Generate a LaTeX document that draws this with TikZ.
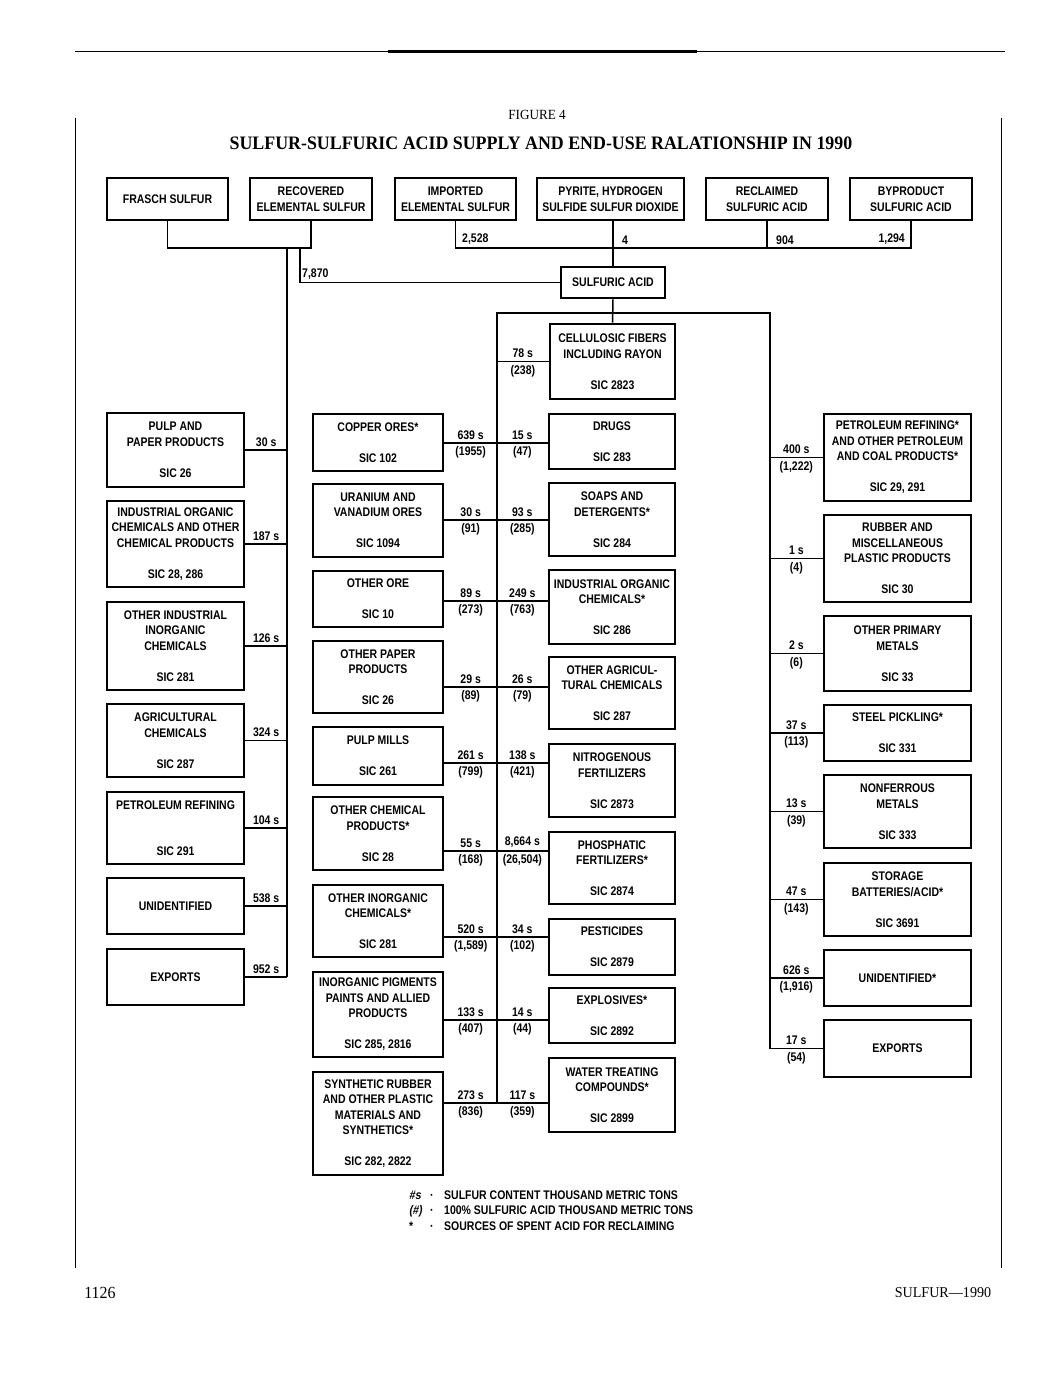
\documentclass[tikz,border=0pt]{standalone}
\usepackage{fontspec}
\setmainfont{Liberation Serif}
\newfontface\headfont[FakeStretch=0.94]{Liberation Serif}
\newfontface\headbold[FakeStretch=0.94]{Liberation Serif Bold}
\newfontface\condb[FakeStretch=0.84]{Liberation Sans Bold}
\newfontface\condbi[FakeStretch=0.84,FakeSlant=0.15]{Liberation Sans Bold}
\newcommand\boxfont{\condb\fontsize{12.5}{15.5}\selectfont}
\usetikzlibrary{calc}

\begin{document}
\begin{tikzpicture}[x=1pt,y=-1pt,
    box/.style={draw,line width=2.6pt,inner sep=0pt,align=center,font=\boxfont},
    topbox/.style={box,minimum height=42pt},
    lcol/.style={box,minimum width=137pt},
    mlcol/.style={box,minimum width=130pt},
    mrcol/.style={box,minimum width=126pt},
    rcol/.style={box,minimum width=147pt},
    qty/.style={font=\boxfont,inner sep=3pt},
    flow/.style={line width=1.5pt}]
    \useasboundingbox (0,0) rectangle (1043,1379);

    % page rules and headings
    \draw[line width=0.8pt] (75,51) -- (1005,51);
    \draw[line width=3pt] (388,51) -- (697,51);
    \draw[line width=0.8pt] (75,118) -- (75,1268) (1001,118) -- (1001,1268);
    \node[font=\headfont\fontsize{14}{16}\selectfont] (fig) at (537,115) {FIGURE 4};
    \node[font=\headbold\fontsize{19}{22}\selectfont] (title) at (541,143)
        {SULFUR-SULFURIC ACID SUPPLY AND END-USE RALATIONSHIP IN 1990};
    \node[font=\headfont\fontsize{17}{20}\selectfont] (pageno) at (100,1293) {1126};
    \node[font=\headfont\fontsize{15}{18}\selectfont] (running) at (943,1293) {SULFUR—1990};

    % supply
    \node[topbox,minimum width=121pt] (frasch) at (167.5,199) {FRASCH SULFUR};
    \node[topbox,minimum width=122pt] (recovered) at (311,199) {RECOVERED\\ELEMENTAL SULFUR};
    \node[topbox,minimum width=121pt] (imported) at (455.5,199) {IMPORTED\\ELEMENTAL SULFUR};
    \node[topbox,minimum width=147pt] (pyrite) at (610.5,199) {PYRITE, HYDROGEN\\SULFIDE SULFUR DIOXIDE};
    \node[topbox,minimum width=122pt] (reclaimed) at (767,199) {RECLAIMED\\SULFURIC ACID};
    \node[topbox,minimum width=122pt] (byproduct) at (911,199) {BYPRODUCT\\SULFURIC ACID};

    \node[box,minimum width=104pt,minimum height=31pt] (acid) at (613,282.5) {SULFURIC ACID};
    \node[box,minimum width=125pt,minimum height=75pt] (cellulose) at (612.5,361.5)
        {CELLULOSIC FIBERS\\INCLUDING RAYON\\[15.5pt]SIC 2823};

    % left column
    \node[lcol,minimum height=74pt] (pulp) at (175.5,450) {PULP AND\\PAPER PRODUCTS\\[15.5pt]SIC 26};
    \node[lcol,minimum height=86pt] (indorg) at (175.5,544) {INDUSTRIAL ORGANIC\\CHEMICALS AND OTHER\\CHEMICAL PRODUCTS\\[15.5pt]SIC 28, 286};
    \node[lcol,minimum height=88pt] (othinorg) at (175.5,646) {OTHER INDUSTRIAL\\INORGANIC\\CHEMICALS\\[15.5pt]SIC 281};
    \node[lcol,minimum height=73pt] (agri) at (175.5,740.5) {AGRICULTURAL\\CHEMICALS\\[15.5pt]SIC 287};
    \node[lcol,minimum height=72pt] (petref) at (175.5,828) {PETROLEUM REFINING\\[31pt]SIC 291};
    \node[lcol,minimum height=56pt] (unid) at (175.5,906) {UNIDENTIFIED};
    \node[lcol,minimum height=56pt] (exportl) at (175.5,977) {EXPORTS};

    % middle left column
    \node[mlcol,minimum height=57pt] (copper) at (378,442.5) {COPPER ORES*\\[15.5pt]SIC 102};
    \node[mlcol,minimum height=73pt] (uranium) at (378,520.5) {URANIUM AND\\VANADIUM ORES\\[15.5pt]SIC 1094};
    \node[mlcol,minimum height=56pt] (otherore) at (378,599) {OTHER ORE\\[15.5pt]SIC 10};
    \node[mlcol,minimum height=72pt] (othpaper) at (378,677) {OTHER PAPER\\PRODUCTS\\[15.5pt]SIC 26};
    \node[mlcol,minimum height=58pt] (pulpmill) at (378,756) {PULP MILLS\\[15.5pt]SIC 261};
    \node[mlcol,minimum height=73pt] (othchem) at (378,833.5) {OTHER CHEMICAL\\PRODUCTS*\\[15.5pt]SIC 28};
    \node[mlcol,minimum height=72pt] (othinorgchem) at (378,921) {OTHER INORGANIC\\CHEMICALS*\\[15.5pt]SIC 281};
    \node[mlcol,minimum height=85pt] (pigment) at (378,1014.5) {INORGANIC PIGMENTS\\PAINTS AND ALLIED\\PRODUCTS\\[15.5pt]SIC 285, 2816};
    \node[mlcol,minimum height=103pt] (synrubber) at (378,1123.5) {SYNTHETIC RUBBER\\AND OTHER PLASTIC\\MATERIALS AND\\SYNTHETICS*\\[15.5pt]SIC 282, 2822};

    % middle right column
    \node[mrcol,minimum height=55pt] (drugs) at (612,441.5) {DRUGS\\[15.5pt]SIC 283};
    \node[mrcol,minimum height=73pt] (soaps) at (612,519.5) {SOAPS AND\\DETERGENTS*\\[15.5pt]SIC 284};
    \node[mrcol,minimum height=74pt] (indorgchem) at (612,607) {INDUSTRIAL ORGANIC\\CHEMICALS*\\[15.5pt]SIC 286};
    \node[mrcol,minimum height=72pt] (othagri) at (612,693) {OTHER AGRICUL-\\TURAL CHEMICALS\\[15.5pt]SIC 287};
    \node[mrcol,minimum height=73pt] (nitro) at (612,780.5) {NITROGENOUS\\FERTILIZERS\\[15.5pt]SIC 2873};
    \node[mrcol,minimum height=72pt] (phos) at (612,868) {PHOSPHATIC\\FERTILIZERS*\\[15.5pt]SIC 2874};
    \node[mrcol,minimum height=56pt] (pest) at (612,947) {PESTICIDES\\[15.5pt]SIC 2879};
    \node[mrcol,minimum height=55pt] (explos) at (612,1015.5) {EXPLOSIVES*\\[15.5pt]SIC 2892};
    \node[mrcol,minimum height=74pt] (water) at (612,1095) {WATER TREATING\\COMPOUNDS*\\[15.5pt]SIC 2899};

    % right column
    \node[rcol,minimum height=87pt] (petcoal) at (897.5,457.5) {PETROLEUM REFINING*\\AND OTHER PETROLEUM\\AND COAL PRODUCTS*\\[15.5pt]SIC 29, 291};
    \node[rcol,minimum height=87pt] (rubber) at (897.5,558.5) {RUBBER AND\\MISCELLANEOUS\\PLASTIC PRODUCTS\\[15.5pt]SIC 30};
    \node[rcol,minimum height=75pt] (primary) at (897.5,653.5) {OTHER PRIMARY\\METALS\\[15.5pt]SIC 33};
    \node[rcol,minimum height=56pt] (steel) at (897.5,733) {STEEL PICKLING*\\[15.5pt]SIC 331};
    \node[rcol,minimum height=73pt] (nonferr) at (897.5,811.5) {NONFERROUS\\METALS\\[15.5pt]SIC 333};
    \node[rcol,minimum height=73pt] (storage) at (897.5,899.5) {STORAGE\\BATTERIES/ACID*\\[15.5pt]SIC 3691};
    \node[rcol,minimum height=56pt] (unidr) at (897.5,978) {UNIDENTIFIED*};
    \node[rcol,minimum height=57pt] (exportr) at (897.5,1048.5) {EXPORTS};

    % trunks
    \coordinate (lt) at (287,248);
    \coordinate (split) at (300,248);
    \coordinate (mt) at (497,313);
    \coordinate (rt) at (770,313);
    \foreach \y [count=\i] in {443,520,601,687,763,851,937,1020,1103}
        \coordinate (r\i) at (497,\y);

    % supply lines
    \draw[flow] (frasch.south) |- (recovered.south |- lt) -- (recovered.south);
    \draw[flow] (lt) -- (lt |- exportl);
    \draw[flow] (split) |- (acid.west);
    \draw[flow] (imported.south) |- (byproduct.south |- lt) -- (byproduct.south);
    \draw[flow] (pyrite.south -| acid.north) -- (acid.north);
    \draw[flow] (reclaimed.south) -- (reclaimed.south |- lt);
    \node[qty,anchor=south west] (q7870) at (299,283) {7,870};
    \node[qty,anchor=south west] (q2528) at (459,248) {2,528};
    \node[qty,anchor=south west] (q4) at (619,248) {4};
    \node[qty,anchor=south west] (q904) at (773,248) {904};
    \node[qty,anchor=south east] (q1294) at (908,248) {1,294};

    % acid distribution
    \draw[flow] (acid.south) -- (cellulose.north);
    \draw[flow] (r9) -- (mt) -- (rt) -- (rt |- exportr);
    \draw[flow] (mt |- cellulose) -- node[qty,above]{78 s} node[qty,below]{(238)} (cellulose.west);

    \path[flow]
    (pulp.east) edge node[qty,above]{30 s} (lt |- pulp)
    (indorg.east) edge node[qty,above]{187 s} (lt |- indorg)
    (othinorg.east) edge node[qty,above]{126 s} (lt |- othinorg)
    (agri.east) edge node[qty,above]{324 s} (lt |- agri)
    (petref.east) edge node[qty,above]{104 s} (lt |- petref)
    (unid.east) edge node[qty,above]{538 s} (lt |- unid)
    (exportl.east) edge node[qty,above]{952 s} (lt |- exportl);

    \draw[flow] (copper.east |- r1) -- node[qty,above]{639 s} node[qty,below]{(1955)} (r1)
        -- node[qty,above]{15 s} node[qty,below]{(47)} (drugs.west |- r1);
    \draw[flow] (uranium.east |- r2) -- node[qty,above]{30 s} node[qty,below]{(91)} (r2)
        -- node[qty,above]{93 s} node[qty,below]{(285)} (soaps.west |- r2);
    \draw[flow] (otherore.east |- r3) -- node[qty,above]{89 s} node[qty,below]{(273)} (r3)
        -- node[qty,above]{249 s} node[qty,below]{(763)} (indorgchem.west |- r3);
    \draw[flow] (othpaper.east |- r4) -- node[qty,above]{29 s} node[qty,below]{(89)} (r4)
        -- node[qty,above]{26 s} node[qty,below]{(79)} (othagri.west |- r4);
    \draw[flow] (pulpmill.east |- r5) -- node[qty,above]{261 s} node[qty,below]{(799)} (r5)
        -- node[qty,above]{138 s} node[qty,below]{(421)} (nitro.west |- r5);
    \draw[flow] (othchem.east |- r6) -- node[qty,above]{55 s} node[qty,below]{(168)} (r6)
        -- node[qty,above]{8,664 s} node[qty,below]{(26,504)} (phos.west |- r6);
    \draw[flow] (othinorgchem.east |- r7) -- node[qty,above]{520 s} node[qty,below]{(1,589)} (r7)
        -- node[qty,above]{34 s} node[qty,below]{(102)} (pest.west |- r7);
    \draw[flow] (pigment.east |- r8) -- node[qty,above]{133 s} node[qty,below]{(407)} (r8)
        -- node[qty,above]{14 s} node[qty,below]{(44)} (explos.west |- r8);
    \draw[flow] (synrubber.east |- r9) -- node[qty,above]{273 s} node[qty,below]{(836)} (r9)
        -- node[qty,above]{117 s} node[qty,below]{(359)} (water.west |- r9);

    \path[flow]
    (rt |- petcoal) edge node[qty,above]{400 s} node[qty,below]{(1,222)} (petcoal.west)
    (rt |- rubber) edge node[qty,above]{1 s} node[qty,below]{(4)} (rubber.west)
    (rt |- primary) edge node[qty,above]{2 s} node[qty,below]{(6)} (primary.west)
    (rt |- steel) edge node[qty,above]{37 s} node[qty,below]{(113)} (steel.west)
    (rt |- nonferr) edge node[qty,above]{13 s} node[qty,below]{(39)} (nonferr.west)
    (rt |- storage) edge node[qty,above]{47 s} node[qty,below]{(143)} (storage.west)
    (rt |- unidr) edge node[qty,above]{626 s} node[qty,below]{(1,916)} (unidr.west)
    (rt |- exportr) edge node[qty,above]{17 s} node[qty,below]{(54)} (exportr.west);

    % key
    \node[anchor=north west,inner sep=0pt,font=\boxfont] (key) at (409,1188)
        {\begin{tabular}{@{}p{21pt}@{}p{14pt}@{}l@{}}
         {\condbi\#s} & · & SULFUR CONTENT THOUSAND METRIC TONS\\
         {\condbi(\#)} & · & 100\% SULFURIC ACID THOUSAND METRIC TONS\\
         {*} & · & SOURCES OF SPENT ACID FOR RECLAIMING
         \end{tabular}};
\end{tikzpicture}
\end{document}
